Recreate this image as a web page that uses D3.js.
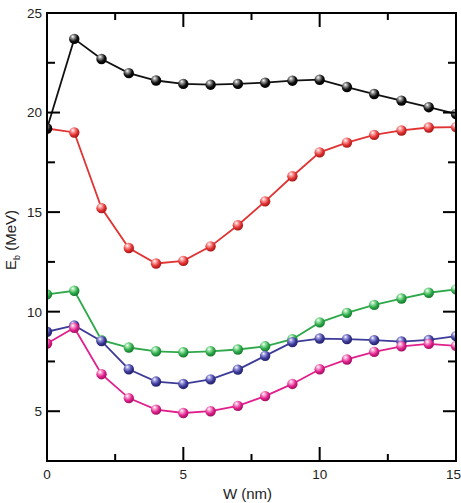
<!DOCTYPE html>
<html>
<head>
<meta charset="utf-8">
<script src="https://cdn.jsdelivr.net/npm/d3@7"></script>
<style>
  html, body { margin: 0; padding: 0; background: #fff; overflow: hidden; }
  svg { display: block; }
  svg text { font-family: "Liberation Sans", Arial, sans-serif; fill: #222; }
</style>
</head>
<body>
<svg id="chart" width="461" height="503"></svg>
<script>
// W (nm) values along the x axis
var widths = [0, 1, 2, 3, 4, 5, 6, 7, 8, 9, 10, 11, 12, 13, 14, 15];

// binding energies (MeV), one array per curve
var ebBlack   = [19.2, 23.7, 22.69, 21.98, 21.61, 21.44, 21.4, 21.44, 21.5, 21.6, 21.65, 21.28, 20.93, 20.6, 20.27, 19.93];
var ebRed     = [19.2, 19.0, 15.2, 13.2, 12.42, 12.55, 13.28, 14.34, 15.54, 16.8, 18.0, 18.49, 18.88, 19.1, 19.25, 19.27];
var ebGreen   = [10.87, 11.05, 8.57, 8.2, 8.01, 7.96, 8.01, 8.1, 8.26, 8.62, 9.46, 9.94, 10.34, 10.66, 10.95, 11.12];
var ebBlue    = [8.99, 9.31, 8.52, 7.11, 6.49, 6.37, 6.6, 7.09, 7.78, 8.47, 8.65, 8.62, 8.57, 8.5, 8.58, 8.77];
var ebMagenta = [8.4, 9.19, 6.86, 5.66, 5.08, 4.91, 5.0, 5.27, 5.76, 6.37, 7.11, 7.6, 7.98, 8.26, 8.38, 8.28];

var xTicks = [0, 5, 10, 15];
var xMinor = [2.5, 7.5, 12.5];
var yTicks = [5, 10, 15, 20, 25];
var yMinor = [7.5, 12.5, 17.5, 22.5];

var series = [
  { name: "green",   values: ebGreen,   line: "#2ea84a", light: "#9be6a8", dark: "#137a2c" },
  { name: "blue",    values: ebBlue,    line: "#3d3b98", light: "#9d9be0", dark: "#22206a" },
  { name: "magenta", values: ebMagenta, line: "#e0208c", light: "#f7a0d0", dark: "#a0105f" },
  { name: "red",     values: ebRed,     line: "#e03333", light: "#ffa3a3", dark: "#a81515" },
  { name: "black",   values: ebBlack,   line: "#111111", light: "#9a9a9a", dark: "#000000" }
];

var MARGIN = { left: 47, right: 5, top: 13, bottom: 42 };
var x0 = MARGIN.left, x1 = 461 - MARGIN.right;
var y0 = MARGIN.top, y1 = 503 - MARGIN.bottom;

var svg = d3.select( "#chart" );
var defs = svg.append( "defs" );

defs.append( "clipPath" )
  .attr( "id", "plot-clip" )
  .append( "rect" )
  .attr( "x", x0 )
  .attr( "y", y0 )
  .attr( "width", x1 - x0 )
  .attr( "height", y1 - y0 );

series.forEach( function( s ){
  var grad = defs.append( "radialGradient" )
    .attr( "id", "ball-" + s.name )
    .attr( "cx", "40%" ).attr( "cy", "35%" ).attr( "r", "65%" )
    .attr( "fx", "35%" ).attr( "fy", "28%" );
  grad.append( "stop" ).attr( "offset", "0%" ).attr( "stop-color", "#ffffff" );
  grad.append( "stop" ).attr( "offset", "25%" ).attr( "stop-color", s.light );
  grad.append( "stop" ).attr( "offset", "65%" ).attr( "stop-color", s.line );
  grad.append( "stop" ).attr( "offset", "100%" ).attr( "stop-color", s.dark );
} );

var x = d3.scaleLinear().domain( [0, 15] ).range( [x0, x1] );
var y = d3.scaleLinear().domain( [2.5, 25] ).range( [y1, y0] );

// curves
var plot = svg.append( "g" ).attr( "clip-path", "url(#plot-clip)" );

var line = d3.line()
  .x( function( d, i ){ return x( widths[ i ] ); } )
  .y( function( d ){ return y( d ); } );

series.forEach( function( s ){
  plot.append( "path" )
    .datum( s.values )
    .attr( "fill", "none" )
    .attr( "stroke", s.line )
    .attr( "stroke-width", 1.8 )
    .attr( "d", line );

  plot.selectAll( ".dot-" + s.name )
    .data( s.values )
    .enter()
    .append( "circle" )
    .attr( "class", "dot-" + s.name )
    .attr( "cx", function( d, i ){ return x( widths[ i ] ); } )
    .attr( "cy", function( d ){ return y( d ); } )
    .attr( "r", 5.2 )
    .attr( "fill", "url(#ball-" + s.name + ")" );
} );

// tick labels
svg.selectAll( ".x-label" )
  .data( xTicks )
  .enter()
  .append( "text" )
  .attr( "class", "x-label" )
  .attr( "x", function( d, i ){ return i == xTicks.length - 1 ? x( d ) + 5 : x( d ); } )
  .attr( "y", y1 + 18 )
  .attr( "text-anchor", function( d, i ){ return i == xTicks.length - 1 ? "end" : "middle"; } )
  .style( "font-size", "13.5px" )
  .text( function( d ){ return d; } );

svg.selectAll( ".y-label" )
  .data( yTicks )
  .enter()
  .append( "text" )
  .attr( "class", "y-label" )
  .attr( "x", x0 - 5 )
  .attr( "y", function( d ){ return y( d ); } )
  .attr( "dy", "0.36em" )
  .attr( "text-anchor", "end" )
  .style( "font-size", "13.5px" )
  .text( function( d ){ return d; } );

// axis titles
svg.append( "text" )
  .attr( "x", ( x0 + x1 ) / 2 - 4 )
  .attr( "y", 499 )
  .attr( "text-anchor", "middle" )
  .style( "font-size", "15px" )
  .text( "W (nm)" );

var yTitle = svg.append( "text" )
  .attr( "transform", "translate(16," + ( ( y0 + y1 ) / 2 + 3 ) + ") rotate(-90)" )
  .attr( "text-anchor", "middle" )
  .style( "font-size", "15px" );
yTitle.append( "tspan" ).text( "E" );
yTitle.append( "tspan" ).attr( "dy", 4 ).style( "font-size", "9px" ).text( "b" );
yTitle.append( "tspan" ).attr( "dy", -4 ).text( " (MeV)" );

// tick marks on all four sides, pointing inward
var xTickData = xTicks.map( function( v ){ return { v: v, len: 14 }; } )
  .concat( xMinor.map( function( v ){ return { v: v, len: 7 }; } ) );
var yTickData = yTicks.map( function( v ){ return { v: v, len: 13 }; } )
  .concat( yMinor.map( function( v ){ return { v: v, len: 8 }; } ) );

[ y0, y1 ].forEach( function( base ){
  var dir = base == y0 ? 1 : -1;
  xTickData.forEach( function( d ){
    svg.append( "line" )
      .attr( "x1", x( d.v ) ).attr( "x2", x( d.v ) )
      .attr( "y1", base ).attr( "y2", base + dir * d.len )
      .attr( "stroke", "black" ).attr( "stroke-width", 2 );
  } );
} );
[ x0, x1 ].forEach( function( base ){
  var dir = base == x0 ? 1 : -1;
  yTickData.forEach( function( d ){
    svg.append( "line" )
      .attr( "y1", y( d.v ) ).attr( "y2", y( d.v ) )
      .attr( "x1", base ).attr( "x2", base + dir * d.len )
      .attr( "stroke", "black" ).attr( "stroke-width", 2 );
  } );
} );

// frame
svg.append( "rect" )
  .attr( "x", x0 )
  .attr( "y", y0 )
  .attr( "width", x1 - x0 )
  .attr( "height", y1 - y0 )
  .attr( "fill", "none" )
  .attr( "stroke", "black" )
  .attr( "stroke-width", 2 )
  .attr( "shape-rendering", "crispEdges" );
</script>
</body>
</html>
